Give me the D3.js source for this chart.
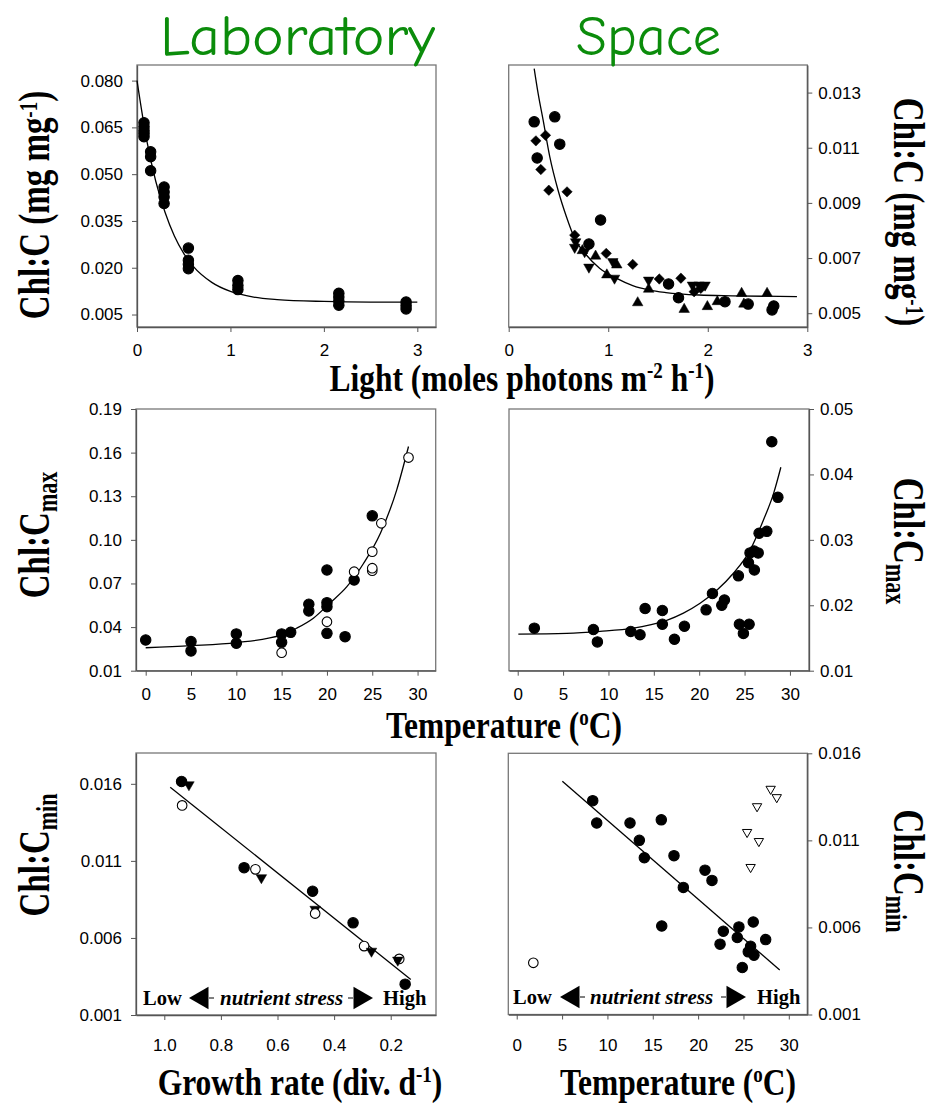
<!DOCTYPE html>
<html lang="en">
<head>
<meta charset="UTF-8" />
<title>Chl:C - Laboratory vs Space</title>
<script src="https://d3js.org/d3.v7.min.js"></script>
<style>
  body { margin: 0; background: #fff; }
  svg text { font-family: "Liberation Sans", Arial, sans-serif; }
  .tick text { font-size: 17px; fill: #000; }
  .tick line { stroke: #555; }
  .domain { stroke: #555; }
  .serif { font-family: "Liberation Serif", "Times New Roman", serif !important; font-weight: bold; }
</style>
</head>
<body>
<svg id="chart" width="934" height="1103"></svg>
<script>
// ---- top left: laboratory, light
const p1X = [0.075, 0.075, 0.075, 0.075, 0.075, 0.146, 0.146, 0.146, 0.29, 0.29, 0.29, 0.29,
  0.55, 0.55, 0.55, 0.55, 1.08, 1.08, 1.08, 2.16, 2.16, 2.16, 2.16, 2.88, 2.88, 2.88];
const p1Y = [0.0665, 0.0652, 0.0640, 0.0630, 0.0620, 0.0572, 0.0556, 0.0511, 0.0459, 0.0443, 0.0427, 0.0406,
  0.0263, 0.0224, 0.0211, 0.0197, 0.0159, 0.0143, 0.0130, 0.0118, 0.0106, 0.0093, 0.0080, 0.0090, 0.0079, 0.0068];
const p1FitX = [0, 0.1, 0.2, 0.3, 0.4, 0.5, 0.6, 0.8, 1.0, 1.25, 1.5, 2.0, 2.5, 3.0];
const p1FitY = [0.0800, 0.0615, 0.0478, 0.0378, 0.0302, 0.0246, 0.0205, 0.0153, 0.0124, 0.0106, 0.0098, 0.0092, 0.0090, 0.0090];

// ---- top right: space, light
const p2X = [0.256, 0.463, 0.513, 0.286, 0.923, 0.806, 1.606, 1.706, 2.173, 2.406, 2.663, 2.646,
  0.273, 0.37, 0.323, 0.403, 0.586, 0.663, 0.98, 1.246, 1.513, 1.73, 1.863, 1.93,
  0.673, 0.663, 0.763, 0.806, 1.046, 1.063, 1.406, 1.846, 1.913, 1.973,
  0.74, 0.873, 1.086, 0.986, 1.296, 1.406, 1.763, 1.996, 2.096, 2.34, 2.363, 2.596];
const p2Y = [0.01194, 0.01212, 0.01113, 0.01063, 0.00838, 0.00751, 0.00606, 0.00556, 0.00542, 0.00533, 0.00526, 0.00512,
  0.01125, 0.01145, 0.01021, 0.00946, 0.0094, 0.00783, 0.00717, 0.00677, 0.00624, 0.00627, 0.00578, 0.0059,
  0.00759, 0.00739, 0.00723, 0.00667, 0.00687, 0.00627, 0.0062, 0.00602, 0.00602, 0.00602,
  0.00727, 0.00707, 0.00675, 0.00639, 0.00538, 0.00587, 0.00514, 0.00524, 0.00542, 0.00572, 0.00533, 0.00572];
const p2Shape = [].concat(Array(12).fill("filled"), Array(12).fill("diamond"), Array(10).fill("down"), Array(12).fill("up"));
const p2FitX = [0.256, 0.296, 0.346, 0.413, 0.496, 0.58, 0.663, 0.78, 0.913, 1.08, 1.246, 1.413, 1.58, 1.913, 2.246, 2.896];
const p2FitY = [0.01387, 0.01296, 0.0120, 0.01067, 0.00946, 0.0085, 0.00771, 0.00711, 0.00663, 0.00627, 0.0060, 0.00584, 0.00575, 0.00566, 0.00563, 0.0056];

// ---- middle left: laboratory, temperature
const p3T = [0, 5, 5, 10, 10, 15, 15, 16, 18, 18, 20, 20, 20, 20, 22, 23, 25,
  15, 20, 23, 25, 25, 25, 26, 29];
const p3V = [0.0311, 0.030, 0.0236, 0.0353, 0.0289, 0.0353, 0.0295, 0.0364, 0.0557, 0.0511, 0.0793, 0.0568, 0.054, 0.0357, 0.0334, 0.0724, 0.1165,
  0.0224, 0.0437, 0.0781, 0.0919, 0.0788, 0.0805, 0.1114, 0.1566];
const p3Shape = [].concat(Array(17).fill("filled"), Array(8).fill("open"));
const p3FitT = [0, 5, 10, 15, 16.65, 18.5, 20.3, 22.2, 24.05, 25.9, 27.7, 29];
const p3FitV = [0.0258, 0.0272, 0.0293, 0.0346, 0.0392, 0.0461, 0.0564, 0.0678, 0.0839, 0.1046, 0.1344, 0.1642];

// ---- middle right: space, temperature
const p4T = [1.83, 8.34, 8.78, 12.46, 13.48, 14.04, 15.94, 15.94, 17.27, 18.37, 20.76, 21.46, 22.49, 22.78,
  24.32, 24.43, 24.87, 25.5, 25.43, 25.6, 26.08, 26.05, 26.5, 26.6, 27.45, 28.0, 28.67];
const p4V = [0.0165, 0.0163, 0.0144, 0.016, 0.0155, 0.0195, 0.0192, 0.0171, 0.0148, 0.0168, 0.0193, 0.0218, 0.0200, 0.0208,
  0.0245, 0.0171, 0.0157, 0.0171, 0.0265, 0.0280, 0.0254, 0.0283, 0.0280, 0.0310, 0.0313, 0.045, 0.0365];
const p4FitT = [0.07, 5.4, 9.07, 12.75, 14.58, 16.42, 18.26, 20.1, 21.94, 23.77, 25.6, 27.07, 28.2, 29.0];
const p4FitV = [0.0156, 0.0157, 0.016, 0.0165, 0.0170, 0.0177, 0.0188, 0.0203, 0.0223, 0.0249, 0.0284, 0.0330, 0.0371, 0.0411];

// ---- bottom left: laboratory, growth rate
const p5G = [0.939, 0.913, 0.937, 0.718, 0.678, 0.657, 0.476, 0.467, 0.467, 0.333, 0.294, 0.268, 0.170, 0.175, 0.149];
const p5V = [0.01615, 0.01594, 0.0146, 0.01056, 0.01045, 0.00991, 0.00903, 0.00786, 0.00758, 0.00698, 0.00547, 0.00514, 0.00464, 0.00456, 0.0030];
const p5Shape = ["filled", "down", "open", "filled", "open", "down", "filled", "down", "open", "filled", "open", "down", "open", "down", "filled"];
const p5LineG = [0.979, 0.129];
const p5LineV = [0.01578, 0.00331];

// ---- bottom right: space, temperature
const p6T = [8.38, 8.82, 12.49, 13.52, 14.07, 15.94, 17.34, 20.76, 21.53, 18.37, 15.99, 22.78, 24.5, 26.08, 24.32,
  22.42, 27.45, 25.79, 25.53, 26.16, 24.87,
  1.83,
  28.0, 28.67, 26.5, 25.4, 26.7, 25.79];
const p6V = [0.01328, 0.012, 0.012, 0.0110, 0.0100, 0.01218, 0.01012, 0.00929, 0.0087, 0.0083, 0.00608, 0.00578, 0.00603, 0.00631, 0.00542,
  0.00504, 0.0053, 0.00492, 0.0046, 0.0044, 0.0037,
  0.00397,
  0.01395, 0.01347, 0.01295, 0.01147, 0.01095, 0.00946];
const p6Shape = [].concat(Array(21).fill("filled"), ["open"], Array(6).fill("openDown"));
const p6LineT = [5.03, 29.0];
const p6LineV = [0.01439, 0.00355];

// ---- tick labels
const lightTicks = [0, 1, 2, 3];
const tempTicks = [0, 5, 10, 15, 20, 25, 30];
const growthTicks = [1.0, 0.8, 0.6, 0.4, 0.2];
const p1Ticks = [0.005, 0.020, 0.035, 0.050, 0.065, 0.080];
const p2Ticks = [0.005, 0.007, 0.009, 0.011, 0.013];
const p3Ticks = [0.01, 0.04, 0.07, 0.10, 0.13, 0.16, 0.19];
const p4Ticks = [0.01, 0.02, 0.03, 0.04, 0.05];
const minTicks = [0.001, 0.006, 0.011, 0.016];

const svg = d3.select("#chart");

function drawPanel(cfg) {
  const x = d3.scaleLinear().domain(cfg.xDom).range([cfg.left, cfg.right]);
  const y = d3.scaleLinear().domain(cfg.yDom).range([cfg.bottom, cfg.top]);

  svg.append("rect")
    .attr("x", cfg.left).attr("y", cfg.top)
    .attr("width", cfg.right - cfg.left).attr("height", cfg.bottom - cfg.top)
    .attr("fill", "none").attr("stroke", "#777").attr("stroke-width", 1.3);

  svg.append("g")
    .attr("transform", `translate(0,${cfg.bottom})`)
    .call(d3.axisBottom(x).tickValues(cfg.xTicks).tickFormat(d3.format(cfg.xFmt))
      .tickSize(5).tickSizeOuter(0).tickPadding(cfg.xPad));

  const yAxis = cfg.ySide === "left" ? d3.axisLeft(y) : d3.axisRight(y);
  svg.append("g")
    .attr("transform", `translate(${cfg.ySide === "left" ? cfg.left : cfg.right},0)`)
    .call(yAxis.tickValues(cfg.yTicks).tickFormat(d3.format(cfg.yFmt))
      .tickSize(5).tickSizeOuter(0).tickPadding(cfg.ySide === "left" ? 9 : 6));

  svg.selectAll(".domain").attr("stroke-width", 1.3);
  return { x, y };
}

function drawMarks(sc, xs, ys, shapes) {
  const pts = xs.map((d, i) => ({ x: d, y: ys[i], s: shapes ? shapes[i] : "filled" }));
  const g = svg.append("g");
  pts.forEach((p) => {
    const cx = sc.x(p.x), cy = sc.y(p.y);
    if (p.s === "filled" || p.s === "open") {
      g.append("circle").attr("cx", cx).attr("cy", cy).attr("r", p.s === "open" ? 4.8 : 5.2)
        .attr("fill", p.s === "open" ? "#fff" : "#000").attr("stroke", "#000").attr("stroke-width", 1.1);
    } else {
      let sym, size, rot, fill = "#000";
      if (p.s === "diamond") { sym = d3.symbolSquare; size = 54; rot = 45; }
      else if (p.s === "up") { sym = d3.symbolTriangle; size = 48; rot = 0; }
      else if (p.s === "down") { sym = d3.symbolTriangle; size = 48; rot = 180; }
      else { sym = d3.symbolTriangle; size = 38; rot = 180; fill = "#fff"; }
      g.append("path").attr("d", d3.symbol().type(sym).size(size)())
        .attr("transform", `translate(${cx},${cy}) rotate(${rot})`)
        .attr("fill", fill).attr("stroke", "#000").attr("stroke-width", fill === "#fff" ? 1 : 0.5);
    }
  });
}

function drawFit(sc, xs, ys, straight) {
  const line = d3.line().x((d) => sc.x(d[0])).y((d) => sc.y(d[1]))
    .curve(straight ? d3.curveLinear : d3.curveMonotoneX);
  svg.append("path").datum(xs.map((d, i) => [d, ys[i]]))
    .attr("d", line).attr("fill", "none").attr("stroke", "#000").attr("stroke-width", 1.3);
}

const s1 = drawPanel({ left: 137, right: 436, top: 65, bottom: 327, xDom: [0, 3.2], yDom: [0.001, 0.085],
  xTicks: lightTicks, xFmt: "d", xPad: 12, yTicks: p1Ticks, yFmt: ".3f", ySide: "left" });
drawFit(s1, p1FitX, p1FitY);
drawMarks(s1, p1X, p1Y);

const s2 = drawPanel({ left: 508.7, right: 807.3, top: 65, bottom: 327, xDom: [0, 3], yDom: [0.0045, 0.014],
  xTicks: lightTicks, xFmt: "d", xPad: 12, yTicks: p2Ticks, yFmt: ".3f", ySide: "right" });
drawMarks(s2, p2X, p2Y, p2Shape);
drawFit(s2, p2FitX, p2FitY);

const s3 = drawPanel({ left: 136, right: 435.7, top: 409, bottom: 670.7, xDom: [-1.07, 32], yDom: [0.01, 0.19],
  xTicks: tempTicks, xFmt: "d", xPad: 12, yTicks: p3Ticks, yFmt: ".2f", ySide: "left" });
drawFit(s3, p3FitT, p3FitV);
drawMarks(s3, p3T, p3V, p3Shape);

const s4 = drawPanel({ left: 509, right: 809, top: 409, bottom: 670.7, xDom: [-0.96, 32.1], yDom: [0.01, 0.05],
  xTicks: tempTicks, xFmt: "d", xPad: 12, yTicks: p4Ticks, yFmt: ".2f", ySide: "right" });
drawFit(s4, p4FitT, p4FitV);
drawMarks(s4, p4T, p4V);

const s5 = drawPanel({ left: 136, right: 436, top: 753, bottom: 1015, xDom: [1.1, 0.04], yDom: [0.001, 0.018],
  xTicks: growthTicks, xFmt: ".1f", xPad: 19, yTicks: minTicks, yFmt: ".3f", ySide: "left" });
drawFit(s5, p5LineG, p5LineV, true);
drawMarks(s5, p5G, p5V, p5Shape);

const s6 = drawPanel({ left: 508.3, right: 807.3, top: 753.3, bottom: 1014.5, xDom: [-0.93, 32.04], yDom: [0.001, 0.016],
  xTicks: tempTicks, xFmt: "d", xPad: 19, yTicks: minTicks, yFmt: ".3f", ySide: "right" });
drawFit(s6, p6LineT, p6LineV, true);
drawMarks(s6, p6T, p6V, p6Shape);

// ---- column titles
[["Laboratory", 160, 275], ["Space", 576, 145]].forEach(([t, x0, len]) => {
  svg.append("text").attr("x", x0).attr("y", 55)
    .attr("textLength", len).attr("lengthAdjust", "spacingAndGlyphs")
    .style("font-family", '"Comic Sans MS", "Comic Neue", "Noto Sans", sans-serif')
    .style("font-size", "56px").attr("fill", "#0b8c0b").text(t);
});

// text built from pieces; [text, shift, size] where shift is a vertical offset
function addPieces(t, parts) {
  let cur = 0;
  parts.forEach(([txt, shift = 0, size]) => {
    const ts = t.append("tspan").attr("dy", shift - cur).text(txt);
    if (size) ts.style("font-size", size + "px");
    cur = shift;
  });
}

// ---- axis titles
function xTitle(cx, base, parts) {
  const t = svg.append("text").attr("class", "serif").attr("text-anchor", "middle")
    .attr("transform", `translate(${cx},${base}) scale(1,1.2)`).style("font-size", "31.5px");
  addPieces(t, parts);
}
xTitle(522, 391, [["Light (moles photons m"], ["-2", -11, 19], [" h"], ["-1", -11, 19], [")"]]);
xTitle(504, 738, [["Temperature ("], ["o", -11, 19], ["C)"]]);
xTitle(300, 1095, [["Growth rate (div. d"], ["-1", -11, 19], [")"]]);
xTitle(678, 1095, [["Temperature ("], ["o", -11, 19], ["C)"]]);

function yTitle(x, y, angle, sub) {
  const t = svg.append("text").attr("class", "serif").attr("text-anchor", "middle")
    .attr("transform", `translate(${x},${y}) rotate(${angle}) scale(1,1.35)`).style("font-size", "33px");
  if (sub) addPieces(t, [["Chl:C"], [sub, 6, 22]]);
  else addPieces(t, [["Chl:C (mg mg"], ["-1", -9, 19], [")"]]);
}
yTitle(49, 205, -90);
yTitle(49, 535, -90, "max");
yTitle(49, 855, -90, "min");
yTitle(894, 212, 90);
yTitle(894, 541, 90, "max");
yTitle(894, 871, 90, "min");

// ---- nutrient stress annotations
function stressNote(xLow, xArrowL, xNote, xArrowR, xHigh, base) {
  const g = svg.append("g");
  g.append("text").attr("class", "serif").attr("x", xLow).attr("y", base).style("font-size", "20.5px").text("Low");
  g.append("text").attr("class", "serif").attr("x", xNote).attr("y", base).style("font-size", "21px")
    .style("font-style", "italic").text("nutrient stress");
  g.append("text").attr("class", "serif").attr("x", xHigh).attr("y", base).style("font-size", "20.5px").text("High");
  const tri = d3.symbol().type(d3.symbolTriangle).size(220)();
  g.append("path").attr("d", tri).attr("transform", `translate(${xArrowL},${base - 7}) rotate(-90)`).attr("fill", "#000");
  g.append("line").attr("x1", xArrowL + 7).attr("x2", xArrowL + 12).attr("y1", base - 7).attr("y2", base - 7).attr("stroke", "#000");
  g.append("path").attr("d", tri).attr("transform", `translate(${xArrowR},${base - 7}) rotate(90)`).attr("fill", "#000");
  g.append("line").attr("x1", xArrowR - 12).attr("x2", xArrowR - 7).attr("y1", base - 7).attr("y2", base - 7).attr("stroke", "#000");
}
stressNote(143, 202, 220, 360, 383, 1005);
stressNote(513, 573, 590, 733, 757, 1004);
</script>
</body>
</html>
